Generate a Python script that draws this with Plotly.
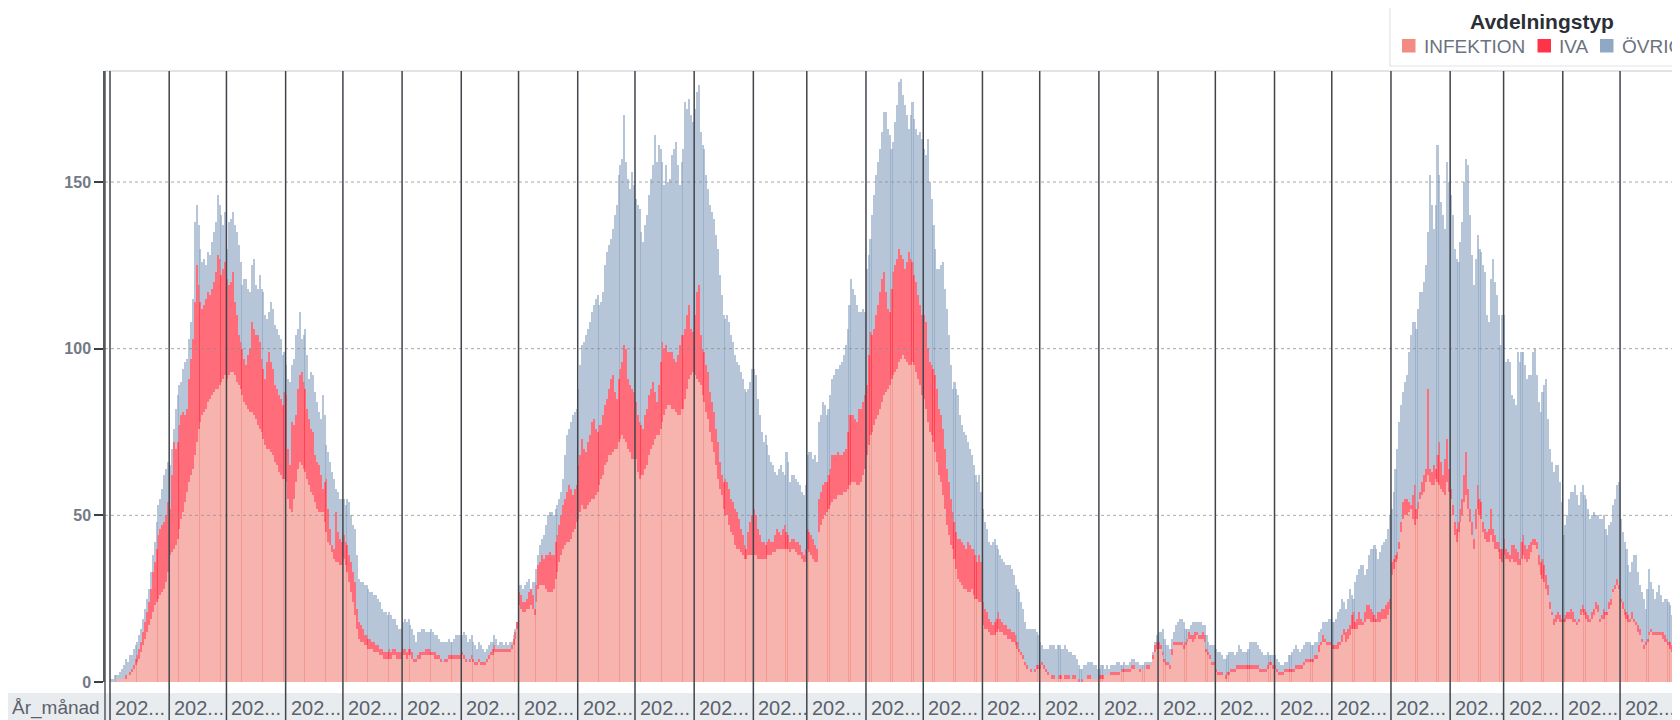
import plotly.graph_objects as go
import pandas as pd

# ---------------- data (daily values, one sub-list per month) ----------------
months = ["2020-03", "2020-04", "2020-05", "2020-06", "2020-07", "2020-08", "2020-09",
          "2020-10", "2020-11", "2020-12", "2021-01", "2021-02", "2021-03", "2021-04",
          "2021-05", "2021-06", "2021-07", "2021-08", "2021-09", "2021-10", "2021-11",
          "2021-12", "2022-01", "2022-02", "2022-03", "2022-04", "2022-05"]

infektion = [
    [0,0,0,1,1,1,1,1,1,2,2,3,4,5,6,7,9,11,13,15,17,19,21,23,24,25,26,27,28,30,33],
    [38,39,40,41,43,46,49,51,54,57,60,62,64,68,72,76,78,80,81,82,84,85,86,87,88,88,89,90,91,92],
    [91,92,93,93,92,90,89,88,86,84,83,82,81,81,80,79,77,76,75,73,71,70,70,69,68,66,65,63,62,61,61],
    [60,55,52,51,55,60,64,66,65,64,63,61,59,57,56,54,52,51,51,51,48,45,42,41,39,37,36,36,35,35],
    [37,35,33,30,27,24,20,16,13,12,12,11,11,10,10,10,9,9,9,8,8,7,7,7,7,7,8,8,7,7,7],
    [8,8,7,8,8,7,6,6,7,7,8,8,8,8,8,8,8,7,7,7,6,6,6,6,7,7,7,7,7,7,7],
    [8,7,6,6,6,7,6,5,5,6,5,5,5,6,7,8,8,9,9,9,9,9,9,9,9,9,10,11,13,16],
    [23,22,21,21,22,22,23,22,20,24,28,29,29,29,28,27,27,27,28,31,33,36,38,40,41,42,42,43,45,46,48],
    [49,51,53,52,52,53,54,55,55,56,57,59,61,62,65,66,68,68,69,70,70,72,73,74,73,72,70,69,67,67],
    [67,63,61,62,62,64,65,68,70,71,73,74,74,76,78,80,82,83,83,82,82,81,80,80,82,82,85,88,91,92,93],
    [92,91,90,89,86,84,81,79,75,72,69,65,61,58,56,52,50,50,47,45,44,41,40,40,39,38,37,37,38,38,38],
    [38,38,37,37,37,37,37,38,38,38,39,39,40,40,40,40,40,40,40,39,40,40,39,38,38,37,36,36],
    [40,39,38,37,36,36,45,47,49,50,51,52,53,54,55,55,56,56,56,57,57,58,59,60,60,60,59,59,60,62,64],
    [68,71,74,75,77,79,80,82,84,86,87,88,89,91,92,93,94,96,97,98,97,96,95,95,96,95,93,91,89,86],
    [85,82,78,75,74,72,69,66,62,60,56,52,47,44,41,40,37,34,31,30,29,28,28,27,27,28,26,25,25,24,24],
    [17,16,16,15,14,14,14,15,16,15,15,14,14,13,13,12,12,11,10,9,8,7,5,4,4,3,3,3,4,4],
    [4,5,4,3,2,2,1,1,1,1,1,1,2,1,1,1,1,1,1,1,0,0,0,1,1,1,1,1,1,1,1],
    [1,1,1,2,2,2,2,2,2,2,2,3,3,3,3,3,3,4,4,4,4,3,4,4,4,4,4,5,7,9,10],
    [10,10,8,6,5,5,4,8,11,11,11,11,11,10,11,12,13,13,12,13,14,13,13,13,12,9,8,7,5,5],
    [3,2,2,2,2,1,2,2,3,3,3,4,4,4,4,4,4,4,4,4,4,4,4,3,3,3,3,4,5,5,4],
    [4,3,2,2,2,3,3,3,3,3,3,4,4,4,4,5,6,6,6,6,6,7,7,9,11,12,12,11,11,11],
    [10,10,10,10,11,12,14,12,13,14,16,16,16,16,17,17,17,18,19,19,18,18,18,18,18,18,19,19,19,20,22],
    [32,34,36,37,40,45,49,50,50,51,52,49,47,49,52,55,56,57,60,62,60,59,59,61,60,59,58,57,56,60,57],
    [55,50,44,42,45,48,50,54,56,52,48,44,40,46,52,50,49,45,43,42,42,44,42,40,40,39,37,36],
    [38,37,37,36,37,36,36,35,35,37,38,37,36,37,39,41,41,40,35,32,31,30,28,26,22,20,17,18,19,18,18],
    [18,18,19,19,19,18,18,17,18,20,21,20,19,18,18,19,20,22,21,18,19,19,20,20,22,23,27,28,29,28],
    [24,22,20,19,18,18,19,18,17,15,14,12,10,11,12,14,15,14,14,14,14,14,13,12,12,11,10,9,9,8,8],
]

iva = [
    [0,0,0,0,0,0,0,0,1,0,1,1,1,2,2,3,3,4,5,6,7,9,12,13,16,19,20,20,20,20,21],
    [14,23,32,29,29,31,31,30,26,25,31,35,39,46,53,43,36,32,32,33,33,31,32,33,35,40,38,32,33,34],
    [30,27,27,30,22,20,15,14,14,13,12,16,19,27,26,25,27,26,22,21,20,26,29,27,26,23,23,23,23,22,26],
    [26,15,13,27,22,20,24,26,28,26,25,21,20,19,19,14,14,14,11,7,12,16,10,5,2,3,15,9,8,7],
    [7,7,8,8,9,9,10,6,5,5,4,3,3,3,3,2,3,2,2,2,2,2,2,2,3,2,2,2,2,2,2],
    [2,2,2,2,2,2,1,1,1,2,1,1,2,2,2,1,1,2,1,1,1,0,1,1,1,1,1,1,1,1,1],
    [1,1,1,0,1,1,1,1,1,1,1,1,1,1,1,1,2,2,1,1,1,1,1,1,1,1,1,2,2,2],
    [4,4,3,3,3,5,5,4,2,5,7,7,9,8,10,11,12,11,10,11,11,11,12,13,14,15,17,15,11,12,11],
    [16,17,20,18,17,19,20,23,24,20,18,18,16,18,18,19,20,23,23,17,15,19,21,22,28,28,21,20,21,20],
    [17,17,17,15,14,16,17,18,18,19,14,10,15,20,24,20,19,16,16,17,15,15,18,21,22,22,21,22,22,14,12],
    [18,26,29,15,14,15,14,14,12,12,12,11,11,8,6,8,11,10,11,10,10,11,11,9,7,6,4,3,7,10,12],
    [14,12,9,7,5,5,4,4,5,4,3,5,6,5,4,6,7,5,4,3,3,3,3,4,3,2,2,4],
    [6,6,6,6,5,4,10,10,10,10,9,10,11,14,13,13,13,12,12,12,13,17,21,20,20,19,19,23,22,22,22],
    [21,27,31,29,29,31,33,35,37,37,30,24,22,27,31,32,33,34,31,29,27,30,34,32,30,27,27,25,24,24],
    [25,26,22,21,21,22,23,22,20,20,20,18,17,16,14,11,11,11,12,13,13,13,12,15,14,12,14,13,11,14,12],
    [7,6,5,4,4,3,4,4,5,4,3,3,3,3,3,3,3,3,2,1,1,1,1,1,0,1,0,1,1,1],
    [1,1,1,1,1,0,1,1,0,0,1,1,0,1,1,1,0,1,1,0,1,0,1,0,0,1,1,0,0,0,0],
    [1,1,1,0,0,0,1,1,1,1,1,0,1,1,1,1,1,1,1,0,0,1,0,0,0,1,1,0,1,2,2],
    [2,1,1,1,1,1,1,2,1,1,1,1,1,1,1,1,2,1,2,2,1,1,1,2,2,1,1,1,1,1],
    [1,1,1,1,0,1,1,1,1,1,1,1,1,1,1,1,1,1,1,1,1,1,1,1,1,1,1,1,1,1,1],
    [1,1,1,1,1,1,1,1,1,1,1,1,1,1,1,1,1,1,1,1,1,1,1,2,1,2,1,1,1,1],
    [1,1,1,2,1,2,2,3,3,3,4,5,2,3,4,2,1,3,4,4,4,3,2,1,3,3,3,3,4,4,3],
    [4,3,2,2,2,3,5,5,5,3,1,7,12,3,2,2,4,5,4,26,4,4,6,3,8,13,8,5,11,13,7],
    [3,3,4,4,3,4,5,8,13,6,4,4,3,6,7,5,5,3,3,3,4,8,4,4,2,3,3,4],
    [5,3,2,2,4,5,4,4,2,5,6,4,4,4,3,2,2,2,3,4,6,5,4,3,2,1,2,2,2,2,1],
    [1,2,2,2,3,3,1,1,1,2,2,2,2,2,1,2,2,2,2,1,1,3,1,1,2,2,1,1,2,1],
    [1,2,2,2,2,1,2,1,1,2,2,1,1,1,1,1,1,1,1,1,1,1,2,2,1,1,2,2,1,1,1],
]

ovrigt = [
    [1,1,2,1,1,2,3,4,5,4,5,4,5,4,4,4,4,4,4,4,4,5,5,6,8,9,9,11,14,14,12],
    [13,8,4,12,14,12,10,13,16,15,12,11,12,24,18,18,16,14,14,10,12,12,14,15,15,18,16,18,13,15],
    [9,19,19,18,23,25,27,24,19,24,26,20,17,17,21,15,14,20,21,23,19,13,12,18,18,18,18,18,18,15,12],
    [9,21,25,17,20,24,18,19,10,14,18,16,12,17,17,19,18,16,17,28,20,10,17,20,22,21,7,12,12,13],
    [11,11,14,16,14,14,16,16,13,13,14,15,15,15,14,15,14,15,14,14,12,12,12,11,11,11,9,9,8,7,7],
    [8,9,9,9,7,7,7,5,7,6,7,7,5,5,5,7,6,5,6,5,5,6,5,5,5,4,4,5,6,6,6],
    [5,7,7,6,6,6,5,5,4,5,5,4,3,3,3,3,2,3,3,1,2,2,1,2,1,2,1,1,1,0],
    [2,3,4,5,5,4,0,4,8,5,3,5,5,7,9,12,12,13,12,10,9,8,7,8,13,17,17,20,24,23,23],
    [23,27,28,32,35,34,34,33,34,39,41,36,37,37,42,44,43,42,44,53,58,61,61,61,69,56,60,59,65,62],
    [61,63,64,58,56,57,58,60,63,65,77,72,72,64,54,49,54,51,52,59,63,66,57,48,52,56,68,62,62,64,63],
    [62,60,60,61,61,61,57,55,56,57,58,58,58,56,54,50,48,50,50,49,48,46,45,46,47,47,47,47,43,42,44],
    [42,42,39,36,33,30,33,29,25,24,23,19,16,19,21,17,15,24,22,18,19,19,19,18,18,18,18,19],
    [22,24,25,24,27,26,23,23,25,23,20,20,22,23,24,26,25,27,28,29,31,31,33,41,38,37,35,29,29,28,25],
    [35,30,28,36,40,42,43,43,44,48,54,54,53,42,39,43,46,50,53,49,49,44,37,43,48,47,46,48,52,53],
    [50,50,63,54,50,43,38,36,42,45,50,48,48,44,40,37,42,43,43,37,35,34,34,30,29,28,25,24,24,24,21],
    [28,26,25,23,23,25,25,22,19,19,19,19,18,19,19,19,17,15,16,17,15,14,12,11,12,12,13,12,10,9],
    [7,5,5,6,7,9,9,9,9,10,9,8,8,9,8,7,8,6,6,6,4,4,3,4,4,4,4,5,4,4,3],
    [2,3,3,2,3,2,2,2,2,3,3,2,1,2,1,1,2,2,2,2,2,1,1,1,2,1,1,1,1,1,2],
    [3,4,7,6,5,5,5,3,3,5,6,7,7,7,4,3,1,3,4,3,3,4,4,2,3,4,3,3,5,5],
    [6,6,6,5,5,5,5,6,5,5,4,4,6,5,4,4,4,5,7,7,7,7,6,6,5,4,4,4,2,2,3],
    [3,3,3,2,2,2,2,4,4,5,6,6,5,4,5,5,5,5,5,4,4,4,4,4,4,4,5,6,7,7],
    [7,7,8,9,10,11,8,7,9,11,6,4,12,13,13,16,17,11,11,15,18,19,21,21,16,18,19,20,20,22,25],
    [16,20,26,31,36,35,33,35,37,45,51,52,49,54,58,60,57,58,61,47,88,80,71,79,93,80,78,78,69,83,86],
    [88,87,82,81,78,80,83,88,88,97,88,80,76,75,75,75,75,77,77,65,62,69,81,76,74,68,61,70],
    [67,56,58,58,45,44,43,60,59,57,55,54,51,51,50,56,57,50,46,45,50,54,59,50,46,45,44,45,44,40,35],
    [25,27,29,34,35,36,40,38,34,35,36,34,34,32,30,29,29,26,27,30,29,28,25,23,23,23,25,26,28,31],
    [24,21,20,19,15,14,15,19,20,16,13,14,14,10,15,19,14,13,10,12,14,11,9,11,12,12,11,9,8,12,11],
]

series_names = ["INFEKTION", "IVA", "ÖVRIGT"]
series_colors = ["#F28B82", "#FF3347", "#8FA8C3"]
y_ticks = [0, 50, 100, 150]
axis_label = "År_månad"
legend_title = "Avdelningstyp"

# ---------------- build daily x values ----------------
def flat(lst):
    return [v for sub in lst for v in sub]

dates = []
for m, vals in zip(months, infektion):
    start = pd.Timestamp(m + "-01")
    dates += [start + pd.Timedelta(days=i, hours=12) for i in range(len(vals))]

# ---------------- geometry (page has an 8px body margin) ----------------
OFF = 8
W, H = 1680 - OFF, 720 - OFF
ML, MT, MB, MR = 105 - OFF, 71 - OFF, 38, 0
PW, PH = W - ML - MR, H - MT - MB


def px(X):  # reference page pixel -> paper x
    return (X - OFF - ML) / PW


def py(Y):  # reference page pixel -> paper y
    return (H - MB - (Y - OFF)) / PH


fig = go.Figure()
for name, col, vals, op in zip(series_names, series_colors,
                               [infektion, iva, ovrigt], [0.65, 0.72, 0.65]):
    fig.add_trace(go.Bar(x=dates, y=flat(vals), name=name,
                         marker=dict(color=col, opacity=op, line=dict(width=0)),
                         showlegend=False))

FONT = "Liberation Sans, Arial, sans-serif"

fig.update_layout(
    width=W, height=H,
    margin=dict(l=ML, r=MR, t=MT, b=MB, autoexpand=False),
    barmode="stack", bargap=0.2,
    plot_bgcolor="white", paper_bgcolor="white",
    font=dict(family=FONT),
    xaxis=dict(type="date", range=["2020-02-27 09:07", "2022-06-01 09:36"],
               showticklabels=False, showgrid=False, zeroline=False,
               showline=False, ticks=""),
    yaxis=dict(range=[0, 183.3], tickvals=y_ticks, ticks="outside", ticklen=9,
               tickwidth=1.5, tickcolor="#3a3e45", showline=True,
               linecolor="#555a61", linewidth=1.5, showgrid=False, zeroline=False,
               tickfont=dict(size=16, color="#737a86", family=FONT, weight="bold")),
)

shapes = []
# dotted gridlines over the bars
for t in y_ticks[1:]:
    shapes.append(dict(type="line", xref="paper", yref="y", x0=0, x1=1, y0=t, y1=t,
                       line=dict(color="rgba(140,140,140,0.75)", width=1, dash="dot"),
                       layer="above"))
# top border
shapes.append(dict(type="line", xref="paper", yref="paper", x0=0, x1=1, y0=1, y1=1,
                   line=dict(color="#c4c7cc", width=1), layer="above"))
# bottom label band
shapes.append(dict(type="rect", xref="paper", yref="paper", x0=px(0), x1=px(1700),
                   y0=py(725), y1=py(693), fillcolor="#e9ecef", line=dict(width=0),
                   layer="above"))
# left axis line extended into label band
shapes.append(dict(type="line", xref="paper", yref="paper", x0=0, x1=0,
                   y0=py(725), y1=1, line=dict(color="#555a61", width=1.5), layer="above"))
# month separators
month_starts = [pd.Timestamp(m + "-01") for m in months] + [pd.Timestamp("2022-06-01")]
for ms in month_starts:
    shapes.append(dict(type="line", xref="x", yref="paper", x0=ms, x1=ms,
                       y0=py(725), y1=1, line=dict(color="#40444b", width=1.5),
                       layer="above"))

# manual legend box
shapes.append(dict(type="rect", xref="paper", yref="paper", x0=px(1390), x1=px(1720),
                   y0=py(66), y1=py(3), fillcolor="white",
                   line=dict(color="#e1e3e6", width=1.2), layer="above"))
leg_sq_x = [1402, 1537.5, 1600]
leg_txt_x = [1421.5, 1557, 1620]
for sx, col in zip(leg_sq_x, series_colors):
    shapes.append(dict(type="rect", xref="paper", yref="paper", x0=px(sx),
                       x1=px(sx + 13.5), y0=py(52.5), y1=py(39), fillcolor=col,
                       line=dict(width=0), layer="above"))
fig.update_layout(shapes=shapes)

ann = []
ann.append(dict(text=axis_label, xref="paper", yref="paper", x=px(10), y=py(708),
                xanchor="left", yanchor="middle", showarrow=False,
                font=dict(size=19, color="#5b626d", family=FONT)))
for m, ms in zip(months, month_starts):
    ann.append(dict(text=m[:3] + "...", xref="x", yref="paper", x=ms, xshift=3,
                    y=py(708), xanchor="left", yanchor="middle", showarrow=False,
                    font=dict(size=20, color="#5b626d", family=FONT)))
ann.append(dict(text="<b>" + legend_title + "</b>", xref="paper", yref="paper",
                x=px(1541.5), y=py(21), xanchor="center", yanchor="middle",
                showarrow=False, font=dict(size=21, color="#2b2f36", family=FONT)))
for tx, name in zip(leg_txt_x, series_names):
    ann.append(dict(text=name, xref="paper", yref="paper", x=px(tx), y=py(46),
                    xanchor="left", yanchor="middle", showarrow=False,
                    font=dict(size=19, color="#6b7280", family=FONT)))
fig.update_layout(annotations=ann)

fig.write_html("out.html")
